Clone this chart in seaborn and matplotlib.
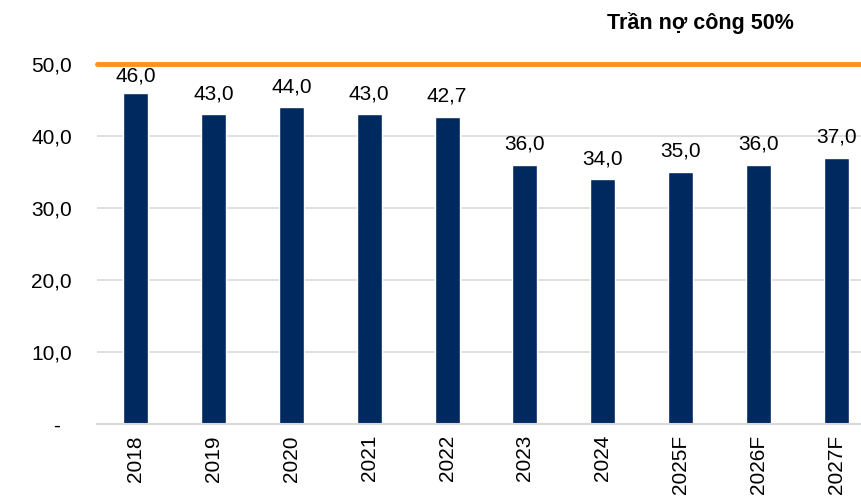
import matplotlib
matplotlib.use("Agg")
import matplotlib.pyplot as plt
import seaborn as sns
import pandas as pd

years = ["2018", "2019", "2020", "2021", "2022", "2023", "2024", "2025F", "2026F", "2027F"]
debt_pct = [46.0, 43.0, 44.0, 43.0, 42.7, 36.0, 34.0, 35.0, 36.0, 37.0]
ceiling = 50.0
ceiling_label = "Trần nợ công 50%"
y_ticks = [0, 10, 20, 30, 40, 50]
y_tick_labels = ["-  ", "10,0", "20,0", "30,0", "40,0", "50,0"]

sns.set_theme(style="white")
plt.rcParams["font.family"] = ["Liberation Sans", "DejaVu Sans"]

df = pd.DataFrame({"year": years, "value": debt_pct})

fig = plt.figure(figsize=(8.61, 5.0), dpi=100)
ax = fig.add_axes([97 / 861, 76 / 500, (861 - 97) / 861, (424 - 64) / 500])

sns.barplot(data=df, x="year", y="value", color="#002960", width=0.32,
            saturation=1, ax=ax)

ax.set_xlim(-0.5, 9.32)
ax.set_ylim(0, 50)
ax.set_yticks(y_ticks)
ax.set_yticklabels(y_tick_labels, fontsize=15, color="#000000")
ax.tick_params(axis="y", length=0, pad=18)
ax.tick_params(axis="x", length=0, pad=8)
for lbl in ax.get_xticklabels():
    lbl.set_rotation(90)
    lbl.set_fontsize(15)
    lbl.set_color("#000000")
    lbl.set_va("top")
    lbl.set_ha("center")

ax.set_xlabel("")
ax.set_ylabel("")

for y in y_ticks[1:-1]:
    ax.axhline(y, color="#D9D9D9", linewidth=1.2, zorder=0)

for side in ["top", "right", "left"]:
    ax.spines[side].set_visible(False)
ax.spines["bottom"].set_color("#D9D9D9")
ax.spines["bottom"].set_linewidth(1.5)

ax.axhline(ceiling, color="#F7941D", linewidth=3.5, clip_on=False, zorder=3)

texts = ax.bar_label(ax.containers[0], labels=[f"{v:.1f}".replace(".", ",") for v in debt_pct],
                     padding=8, fontsize=15, color="#000000")
texts[0].xyann = (0, 5)

fig.text(700 / 861, 1 - 23 / 500, ceiling_label, fontsize=15.5, fontweight="bold",
         ha="center", va="center", color="#000000")

fig.savefig("out.png", dpi=100, facecolor="white")
